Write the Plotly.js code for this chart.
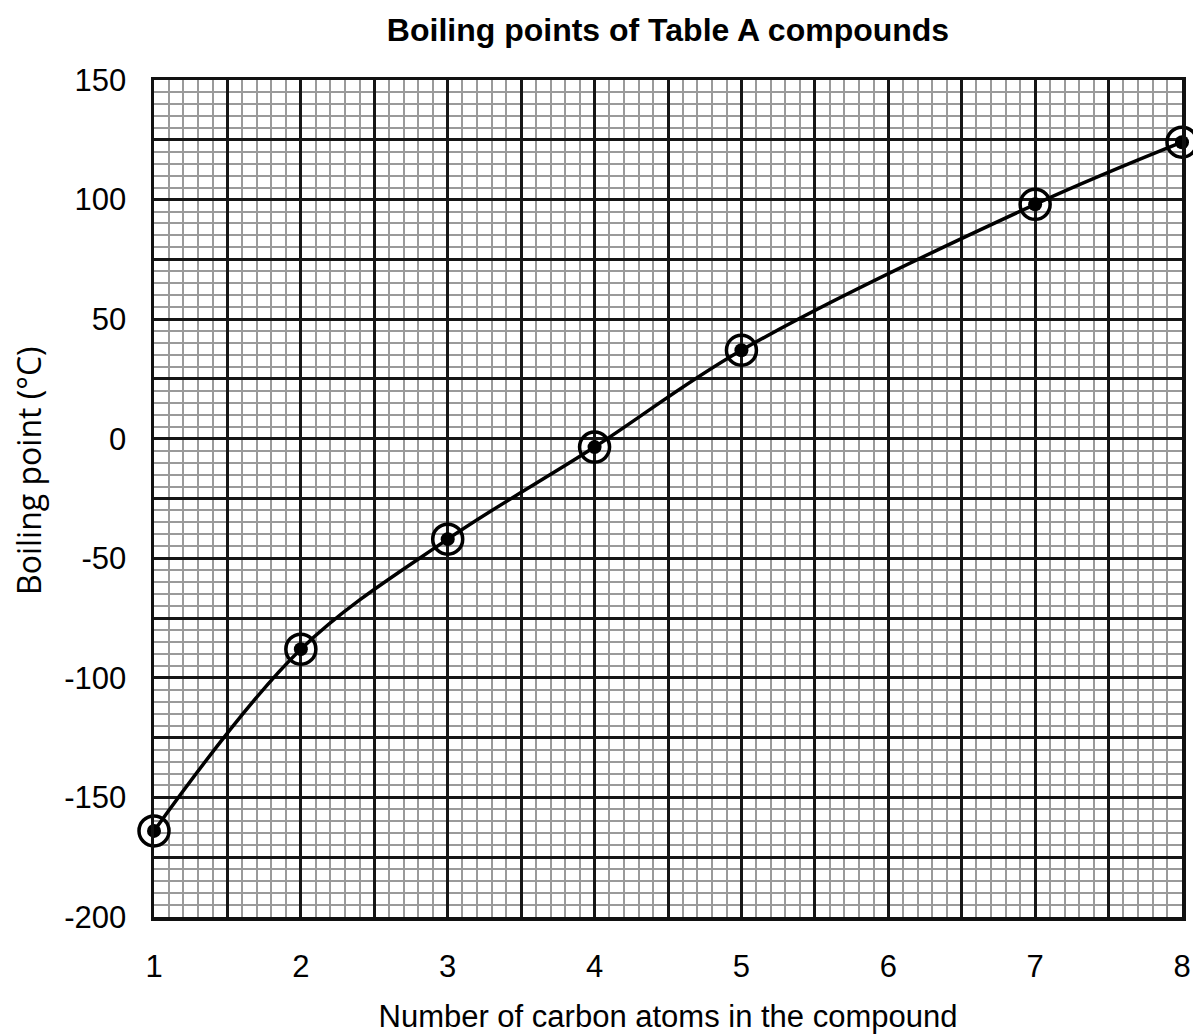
<!DOCTYPE html>
<html>
<head>
<meta charset="utf-8">
<script src="https://cdn.plot.ly/plotly-3.0.1.min.js"></script>
<style>html,body{margin:0;padding:0;background:#fff}#chart{width:1193px;height:1036px}</style>
</head>
<body>
<div id="chart"></div>
<script>
// Data
const carbonAtoms = [1, 2, 3, 4, 5, 7, 8];
const boilingPoints = [-164, -88, -42, -3.5, 37, 98, 124];

// Tick / gridline definitions
const xGridVals = [1, 1.5, 2, 2.5, 3, 3.5, 4, 4.5, 5, 5.5, 6, 6.5, 7, 7.5, 8];
const xGridText = ['1', '', '2', '', '3', '', '4', '', '5', '', '6', '', '7', '', '8'];
const yGridVals = [-200, -175, -150, -125, -100, -75, -50, -25, 0, 25, 50, 75, 100, 125, 150];
const yGridText = ['-200', '', '-150', '', '-100', '', '-50', '', '0', '', '50', '', '100', '', '150'];

const FONT = 'Liberation Sans, Arial, sans-serif';

const traces = [
  {
    x: carbonAtoms, y: boilingPoints, type: 'scatter', mode: 'lines',
    line: {color: '#000', width: 3.5, shape: 'spline', smoothing: 1},
    hoverinfo: 'skip', showlegend: false, cliponaxis: false
  },
  {
    x: carbonAtoms, y: boilingPoints, type: 'scatter', mode: 'markers',
    marker: {symbol: 'circle-open', size: 30, color: '#000', line: {width: 3.5, color: '#000'}},
    showlegend: false, cliponaxis: false
  },
  {
    x: carbonAtoms, y: boilingPoints, type: 'scatter', mode: 'markers',
    marker: {symbol: 'circle', size: 14, color: '#000'},
    showlegend: false, cliponaxis: false
  }
];

const layout = {
  width: 1193, height: 1036,
  margin: {l: 154, r: 11, t: 80, b: 119},
  paper_bgcolor: '#fff', plot_bgcolor: '#fff',
  font: {family: FONT, color: '#000'},
  title: {
    text: '<b>Boiling points of Table A compounds</b>',
    font: {family: FONT, size: 32, color: '#000'},
    x: 0.5, xref: 'paper', y: 0.971, yref: 'container', yanchor: 'middle'
  },
  xaxis: {
    range: [1, 8], tickmode: 'array', tickvals: xGridVals, ticktext: xGridText,
    showgrid: true, gridcolor: '#151515', gridwidth: 3,
    minor: {dtick: 0.1, tick0: 1, showgrid: true, gridcolor: '#9a9a9a', gridwidth: 2, ticks: ''},
    showline: true, mirror: true, linecolor: '#111', linewidth: 3.5,
    zeroline: false, ticks: '', ticklabelstandoff: 19,
    tickfont: {family: FONT, size: 31, color: '#000'},
    title: {text: 'Number of carbon atoms in the compound', font: {family: FONT, size: 31, color: '#000'}, standoff: 23}
  },
  yaxis: {
    range: [-200, 150], tickmode: 'array', tickvals: yGridVals, ticktext: yGridText,
    showgrid: true, gridcolor: '#151515', gridwidth: 3,
    minor: {dtick: 5, tick0: -200, showgrid: true, gridcolor: '#9a9a9a', gridwidth: 2, ticks: ''},
    showline: true, mirror: true, linecolor: '#111', linewidth: 3.5,
    zeroline: false, ticks: '', ticklabelstandoff: 18,
    tickfont: {family: FONT, size: 31, color: '#000'}
  },
  annotations: [{
    text: 'Boiling point (°C)', textangle: -90, showarrow: false,
    xref: 'paper', yref: 'paper', x: -0.1215, y: 0.533,
    xanchor: 'center', yanchor: 'middle',
    font: {family: 'Open Sans, sans-serif', size: 32, color: '#000'}
  }]
};

Plotly.newPlot('chart', traces, layout, {displayModeBar: false, staticPlot: true});
</script>
</body>
</html>
